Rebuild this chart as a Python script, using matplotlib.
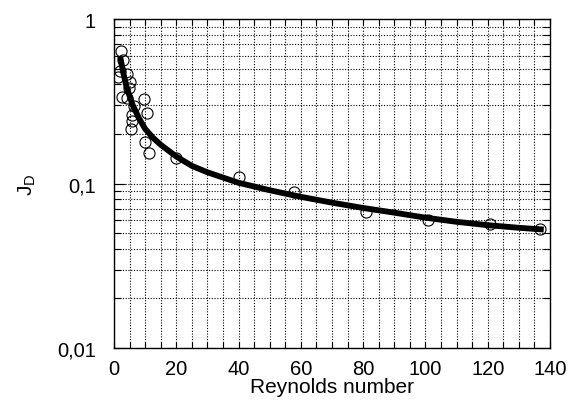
import matplotlib
matplotlib.use("Agg")
import matplotlib.pyplot as plt
from matplotlib.ticker import FixedLocator, FixedFormatter, MultipleLocator, LogLocator, NullFormatter

plt.rcParams['font.family'] = ['Liberation Sans', 'DejaVu Sans']

# Measured data points (Reynolds number, J_D)
re_points = [2.2, 2.9, 1.9, 1.3, 4.2, 5.1, 4.8, 2.6, 4.2, 9.6, 6.4, 10.6, 5.8, 5.8, 5.5,
             10.0, 11.2, 19.9, 40.1, 57.8, 80.9, 100.8, 120.7, 136.8]
jd_points = [0.639, 0.563, 0.483, 0.444, 0.463, 0.414, 0.381, 0.336, 0.331, 0.326, 0.296,
             0.268, 0.261, 0.240, 0.214, 0.179, 0.153, 0.143, 0.1095, 0.0888, 0.0671,
             0.060, 0.0567, 0.0529]

# Fitted curve
re_curve = [2, 3, 4, 5, 6, 8, 10, 12.5, 15, 20, 25, 30, 40, 50, 60, 70, 80, 90, 100,
            110, 120, 130, 138]
jd_curve = [0.59, 0.47, 0.39, 0.34, 0.30, 0.25, 0.215, 0.19, 0.172, 0.146, 0.128, 0.117,
            0.101, 0.091, 0.083, 0.0765, 0.071, 0.0665, 0.062, 0.0585, 0.0558, 0.0538,
            0.0525]

x_ticks = [0, 20, 40, 60, 80, 100, 120, 140]
y_ticks = [0.01, 0.1, 1]
y_ticklabels = ['0,01', '0,1', '1']

fig = plt.figure(figsize=(5.71, 4.06), dpi=100)
ax = fig.add_axes([0.1996, 0.1404, 0.9632 - 0.1996, 0.9507 - 0.1404])

ax.plot(re_curve, jd_curve, color='black', lw=4.2, solid_capstyle='butt', zorder=3)
ax.plot(re_points, jd_points, linestyle='none', marker='o', markersize=8,
        markerfacecolor='none', markeredgecolor='black', markeredgewidth=0.8, zorder=4)

ax.set_yscale('log')
ax.set_xlim(0, 140)
ax.set_ylim(0.01, 1)

ax.xaxis.set_major_locator(FixedLocator(x_ticks))
ax.xaxis.set_minor_locator(MultipleLocator(5))
ax.yaxis.set_major_locator(FixedLocator(y_ticks))
ax.yaxis.set_major_formatter(FixedFormatter(y_ticklabels))
ax.yaxis.set_minor_locator(LogLocator(base=10, subs=range(2, 10)))
ax.yaxis.set_minor_formatter(NullFormatter())

ax.grid(True, which='both', color='black', linestyle=(0, (1, 1.5)), linewidth=0.8)

ax.tick_params(axis='both', which='both', direction='in', top=True, right=True,
               color='black', width=0.8)
ax.tick_params(axis='x', which='both', length=4, pad=8, labelsize=14.5)
ax.tick_params(axis='y', which='major', length=8, pad=13, labelsize=14.5)
ax.tick_params(axis='y', which='minor', length=5)

for s in ax.spines.values():
    s.set_linewidth(1.0)
    s.set_color('black')

ax.set_xlabel('Reynolds number', fontsize=15, labelpad=-1)
ax.set_ylabel(r'J$_\mathregular{D}$', fontsize=15, labelpad=14)

fig.savefig('out.png', dpi=100)
